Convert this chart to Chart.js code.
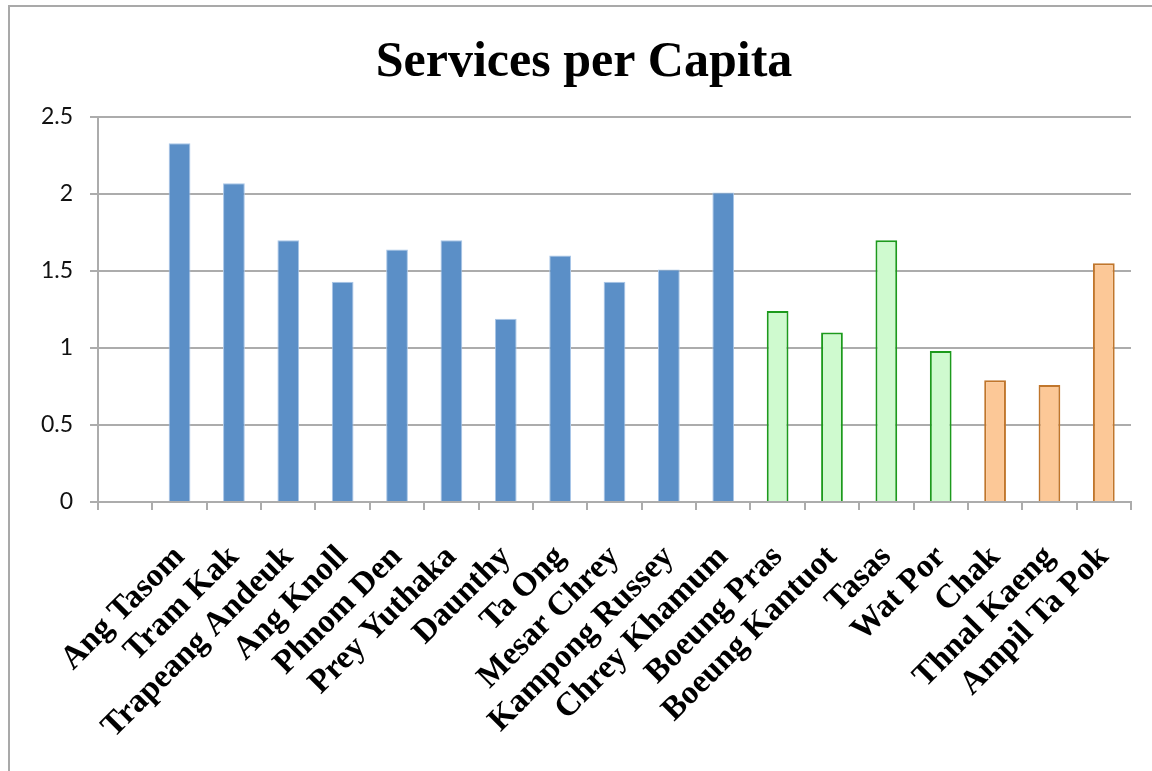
<!DOCTYPE html>
<html>
<head>
<meta charset="utf-8">
<title>Services per Capita</title>
<script src="https://cdn.jsdelivr.net/npm/chart.js@4.4.1/dist/chart.umd.min.js"></script>
<style>
  html, body { margin: 0; padding: 0; background: #fff; }
  body { width: 1152px; height: 771px; overflow: hidden; position: relative; }
  #frame {
    position: absolute; left: 8px; top: 5px; right: -4px; bottom: -4px;
    border-left: 2px solid #a9a9a9; border-top: 2px solid #a9a9a9;
  }
  #servicesChart { position: absolute; left: 0; top: 0; }
</style>
</head>
<body>
<div id="frame">
  <canvas id="servicesChart" width="1142" height="764"></canvas>
</div>
<script>
// districts in three groups, one colour each
const districtsA = ['Ang Tasom', 'Tram Kak', 'Trapeang Andeuk', 'Ang Knoll', 'Phnom Den',
  'Prey Yuthaka', 'Daunthy', 'Ta Ong', 'Mesar Chrey', 'Kampong Russey', 'Chrey Khamum'];
const valuesA = [2.33, 2.07, 1.70, 1.43, 1.64, 1.70, 1.19, 1.60, 1.43, 1.51, 2.01];

const districtsB = ['Boeung Pras', 'Boeung Kantuot', 'Tasas', 'Wat Por'];
const valuesB = [1.24, 1.10, 1.70, 0.98];

const districtsC = ['Chak', 'Thnal Kaeng', 'Ampil Ta Pok'];
const valuesC = [0.79, 0.76, 1.55];

const yTicks = [0, 0.5, 1, 1.5, 2, 2.5];

// first slot of the axis is left blank
const labels = [''].concat(districtsA, districtsB, districtsC);
const values = [null].concat(valuesA, valuesB, valuesC);

const fills = [null]
  .concat(districtsA.map(() => '#5b8fc7'))
  .concat(districtsB.map(() => '#cffacf'))
  .concat(districtsC.map(() => '#fcc897'));
const borders = [null]
  .concat(districtsA.map(() => '#a9c6e8'))
  .concat(districtsB.map(() => '#1c9a1c'))
  .concat(districtsC.map(() => '#c0762c'));
const borderWidths = [0]
  .concat(districtsA.map(() => 1))
  .concat(districtsB.map(() => 2))
  .concat(districtsC.map(() => 2));

const axisGrey = '#acacac';

const ctx = document.getElementById('servicesChart');
const chart = new Chart(ctx, {
  type: 'bar',
  data: {
    labels,
    datasets: [{
      label: 'Services per Capita',
      data: values,
      backgroundColor: fills,
      borderColor: borders,
      borderWidth: borderWidths,
      categoryPercentage: 1,
      barPercentage: 0.4
    }]
  },
  options: {
    responsive: false,
    animation: false,
    devicePixelRatio: 1,
    layout: {
      // left padding keeps the title centred over the whole frame
      padding: { left: 27, right: 21, top: 0, bottom: 0 }
    },
    plugins: {
      legend: { display: false },
      tooltip: { enabled: false },
      title: {
        display: true,
        text: 'Services per Capita',
        color: '#000',
        font: { family: 'Liberation Serif', weight: 'bold', size: 50 },
        padding: { top: 26, bottom: 24 }
      }
    },
    scales: {
      x: {
        grid: {
          drawOnChartArea: false,
          drawTicks: true,
          tickLength: 8,
          color: axisGrey,
          lineWidth: 2
        },
        border: { display: true, color: axisGrey, width: 2 },
        ticks: {
          autoSkip: false,
          minRotation: 45,
          maxRotation: 45,
          padding: 28,
          color: '#000',
          font: { family: 'Liberation Serif', weight: 'bold', size: 33 }
        },
        afterFit: (scale) => {
          scale.height = 269;
          // rotated labels lean left, no extra side room needed
          scale.paddingLeft = 0;
          scale.paddingRight = 0;
        }
      },
      y: {
        min: 0,
        max: 2.5,
        afterBuildTicks: (scale) => { scale.ticks = yTicks.map(v => ({ value: v })); },
        grid: {
          color: axisGrey,
          lineWidth: 2,
          drawTicks: true,
          tickLength: 8
        },
        border: { display: true, color: axisGrey, width: 2 },
        ticks: {
          padding: 17,
          color: '#111',
          font: { family: 'Lato', size: 23 },
          callback: (v) => String(v)
        },
        afterFit: (scale) => { scale.width = 61; }
      }
    }
  }
});
</script>
</body>
</html>
